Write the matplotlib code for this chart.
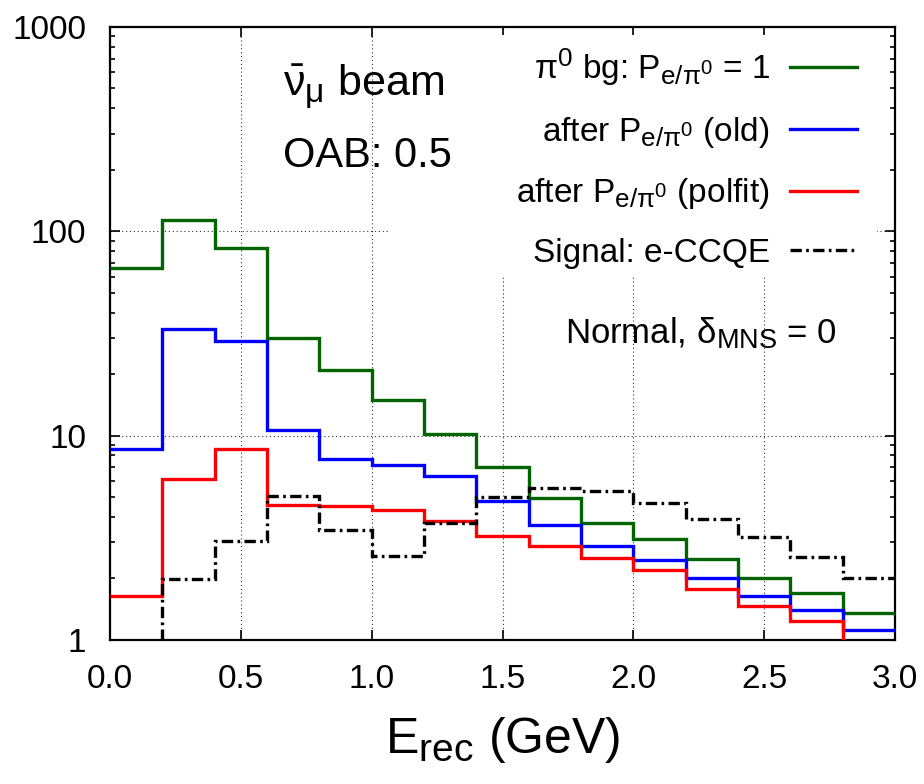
import matplotlib
matplotlib.use("Agg")
import matplotlib.pyplot as plt
import matplotlib._mathtext as mathtext_mod
from matplotlib import font_manager
from matplotlib.patches import Rectangle
from matplotlib.ticker import FixedLocator, FixedFormatter, NullFormatter

# 添字を少し大きめに (gnuplot 風)
mathtext_mod.SHRINK_FACTOR = 0.78

font_name = "Liberation Sans"
try:
    font_manager.findfont("Liberation Sans Narrow", fallback_to_default=False)
    font_name = "Liberation Sans Narrow"
except Exception:
    pass

plt.rcParams["font.family"] = [font_name, "DejaVu Sans"]
plt.rcParams["mathtext.fontset"] = "custom"
plt.rcParams["mathtext.rm"] = font_name
plt.rcParams["mathtext.it"] = font_name
plt.rcParams["mathtext.default"] = "regular"

# ビンの端 (GeV)
edges = [0.0, 0.2, 0.4, 0.6, 0.8, 1.0, 1.2, 1.4, 1.6, 1.8, 2.0, 2.2, 2.4, 2.6, 2.8, 3.0]

# 各ヒストグラムの値
pi0_bg = [66, 113, 83, 30.2, 21, 15, 10.2, 7.05, 4.97, 3.75, 3.11, 2.48, 2.0, 1.69, 1.36]
after_old = [8.6, 33.2, 29.2, 10.7, 7.72, 7.19, 6.35, 4.79, 3.64, 2.89, 2.46, 2.0, 1.65, 1.40, 1.12]
after_polfit = [1.65, 6.14, 8.58, 4.59, 4.54, 4.33, 3.82, 3.23, 2.89, 2.52, 2.19, 1.78, 1.46, 1.24, 0.9]
signal = [0.3, 1.98, 3.06, 5.07, 3.45, 2.59, 3.73, 4.99, 5.52, 5.38, 4.70, 3.91, 3.18, 2.54, 2.02]

labels = [
    r"$\pi^0$ bg: P$_{e/\pi^0}$ = 1",
    r"after P$_{e/\pi^0}$ (old)",
    r"after P$_{e/\pi^0}$ (polfit)",
    "Signal: e-CCQE",
]

x_ticks = [0.0, 0.5, 1.0, 1.5, 2.0, 2.5, 3.0]
x_ticklabels = ["0.0", "0.5", "1.0", "1.5", "2.0", "2.5", "3.0"]
y_ticks = [1, 10, 100, 1000]
y_ticklabels = ["1", "10", "100", "1000"]

fig = plt.figure(figsize=(9.24, 7.84), dpi=100)
ax = fig.add_axes([0.119, 0.1837, 0.8497, 0.7819])

lw = 2.4
ax.stairs(pi0_bg, edges, baseline=None, color="#006400", lw=lw, label=labels[0], zorder=3)
ax.stairs(after_old, edges, baseline=None, color="#0000ff", lw=lw, label=labels[1], zorder=3)
ax.stairs(after_polfit, edges, baseline=None, color="#ff0000", lw=lw, label=labels[2], zorder=3)
ax.stairs(signal, edges, baseline=None, color="black", lw=lw,
          linestyle=(0, (3.4, 1.3, 0.8, 1.3)), label=labels[3], zorder=4)

ax.set_yscale("log")
ax.set_xlim(0, 3.0)
ax.set_ylim(1, 1000)

ax.xaxis.set_major_locator(FixedLocator(x_ticks))
ax.xaxis.set_major_formatter(FixedFormatter(x_ticklabels))
ax.yaxis.set_major_locator(FixedLocator(y_ticks))
ax.yaxis.set_major_formatter(FixedFormatter(y_ticklabels))
ax.yaxis.set_minor_locator(FixedLocator(
    [m * 10 ** e for e in range(0, 3) for m in range(2, 10)]))
ax.yaxis.set_minor_formatter(NullFormatter())

ax.tick_params(which="both", direction="in", top=True, right=True, width=1.2)
ax.tick_params(which="major", length=7, labelsize=24, pad=17)
ax.tick_params(which="minor", length=3.5)
for s in ax.spines.values():
    s.set_linewidth(1.6)

ax.grid(True, which="major", linestyle=(0, (1, 2.5)), color="#333333", lw=0.8, zorder=1)

# 凡例の背景 (グリッドを隠す)
ax.add_patch(Rectangle((0.354, 0.595), 0.623, 0.392, transform=ax.transAxes,
                       facecolor="white", edgecolor="none", zorder=2))

ax.set_xlabel(r"E$_{rec}$ (GeV)", fontsize=36, labelpad=15)

leg = ax.legend(loc="upper right", bbox_to_anchor=(0.985, 1.012), markerfirst=False,
                fontsize=24, handlelength=2.0, handletextpad=0.6, labelspacing=0.8,
                frameon=False, borderpad=0.3)
leg.set_zorder(5)

ax.text(0.22, 0.889, r"$\bar{\nu}_{\mu}$ beam", transform=ax.transAxes,
        fontsize=31, ha="left", va="baseline")
ax.text(0.22, 0.772, "OAB: 0.5", transform=ax.transAxes,
        fontsize=30, ha="left", va="baseline")
ax.text(0.926, 0.4845, r"Normal, $\delta_{MNS}$ = 0", transform=ax.transAxes,
        fontsize=25, ha="right", va="baseline")

fig.savefig("out.png", dpi=100)
